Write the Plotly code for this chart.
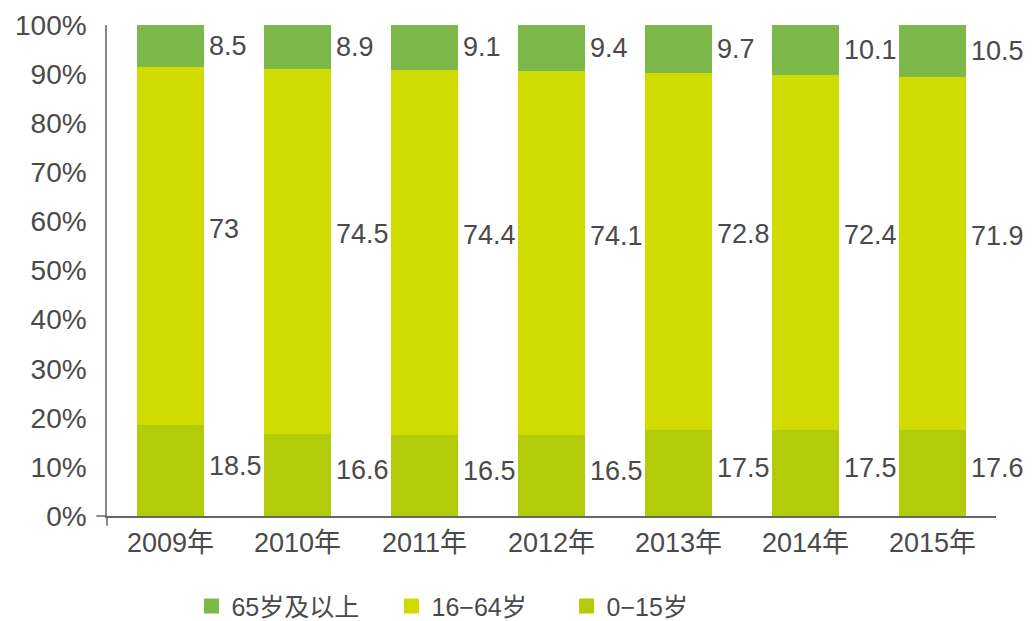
import plotly.graph_objects as go

years = ["2009年", "2010年", "2011年", "2012年", "2013年", "2014年", "2015年"]
age_0_15 = [18.5, 16.6, 16.5, 16.5, 17.5, 17.5, 17.6]
age_16_64 = [73, 74.5, 74.4, 74.1, 72.8, 72.4, 71.9]
age_65_up = [8.5, 8.9, 9.1, 9.4, 9.7, 10.1, 10.5]
y_ticks = [0, 10, 20, 30, 40, 50, 60, 70, 80, 90, 100]
y_tick_text = [f"{v}%" for v in y_ticks]

c_old = "#7cb84a"
c_mid = "#d0dc00"
c_young = "#b3cc0a"
txt = "#4a4a4a"
font_family = "Liberation Sans, Arial, Noto Sans CJK SC, sans-serif"

# (name, values, colour, legend id, legend x position in paper coords)
series = [
    ("0−15岁", age_0_15, c_young, "legend3", 0.517),
    ("16−64岁", age_16_64, c_mid, "legend2", 0.320),
    ("65岁及以上", age_65_up, c_old, "legend", 0.095),
]

fig = go.Figure()
for name, vals, col, leg, lx in series:
    fig.add_trace(go.Bar(x=years, y=vals, name=name, marker_color=col,
                         marker_line_width=0, legendgroup=name, showlegend=False))
    # legend entry with a larger square swatch
    fig.add_trace(go.Scatter(x=[None], y=[None], mode="markers", name=name,
                             marker=dict(symbol="square", size=15, color=col),
                             legendgroup=name, legend=leg, showlegend=True))

def fmt(v):
    return f"{v:g}"

for i, yr in enumerate(years):
    b = age_0_15[i]
    m = age_16_64[i]
    t = age_65_up[i]
    for val, ymid in [(b, b / 2 + 1), (m, b + m / 2 + 3.5), (t, b + m + t / 2)]:
        fig.add_annotation(x=yr, y=ymid, text=fmt(val), showarrow=False,
                           xanchor="left", yanchor="middle", xshift=36,
                           font=dict(size=27, color=txt, family=font_family))

legend_common = dict(orientation="h", xanchor="left", y=-0.137, yanchor="top",
                     font=dict(size=25, color=txt, family=font_family), itemwidth=30,
                     bgcolor="rgba(0,0,0,0)")
legends = {}
for name, vals, col, leg, lx in series:
    legends[leg] = dict(legend_common, x=lx)

fig.update_layout(
    barmode="stack",
    bargap=0.48,
    width=1034, height=621,
    margin=dict(l=99, r=46, t=17, b=113, autoexpand=False),
    paper_bgcolor="white", plot_bgcolor="white",
    font=dict(family=font_family, color=txt, size=26),
    showlegend=True,
    **legends,
    xaxis=dict(range=[-0.5, len(years) - 0.5], showline=True, linecolor="#666",
               linewidth=1.5, ticks="", tickfont=dict(size=27, color=txt),
               showgrid=False, automargin=False, ticklabelstandoff=2),
    yaxis=dict(range=[0, 100], tickvals=y_ticks, ticktext=y_tick_text,
               showline=True, linecolor="#888", linewidth=1.5, showgrid=False,
               zeroline=False, ticks="", ticklabelstandoff=13, automargin=False,
               tickfont=dict(size=28, color=txt)),
)
# small axis overhangs at the origin
fig.add_shape(type="line", xref="paper", yref="paper", x0=-0.012, x1=0, y0=0, y1=0,
              line=dict(color="#666", width=1.5))
fig.add_shape(type="line", xref="paper", yref="paper", x0=0, x1=0, y0=0, y1=-0.02,
              line=dict(color="#666", width=1.5))

fig.write_html("out.html")
